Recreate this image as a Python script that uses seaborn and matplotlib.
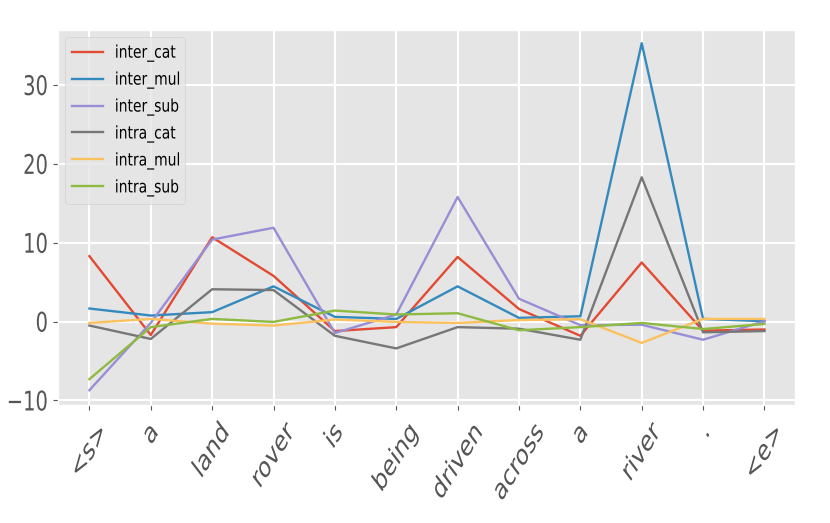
import numpy as np
import pandas as pd
import matplotlib
matplotlib.use("Agg")
import matplotlib.pyplot as plt
import seaborn as sns
from matplotlib.patheffects import AbstractPathEffect
from matplotlib.transforms import Affine2D

tokens = ["<s>", "a", "land", "rover", "is", "being", "driven", "across", "a", "river", ".", "<e>"]

inter_cat = [8.3, -1.7, 10.7, 5.8, -1.2, -0.7, 8.2, 1.6, -1.8, 7.5, -1.15, -1.0]
inter_mul = [1.66, 0.77, 1.2, 4.47, 0.6, 0.34, 4.47, 0.47, 0.68, 35.3, 0.34, 0.05]
inter_sub = [-8.7, -0.17, 10.4, 11.9, -1.45, 0.9, 15.8, 2.9, -0.45, -0.4, -2.3, 0.05]
intra_cat = [-0.5, -2.2, 4.1, 4.0, -1.8, -3.4, -0.7, -0.9, -2.3, 18.3, -1.36, -1.2]
intra_mul = [-0.17, 0.34, -0.26, -0.5, 0.26, -0.04, -0.17, 0.2, 0.3, -2.7, 0.34, 0.34]
intra_sub = [-7.3, -0.7, 0.34, -0.04, 1.4, 0.9, 1.06, -1.1, -0.7, -0.17, -0.94, -0.3]

series = {
    "inter_cat": inter_cat,
    "inter_mul": inter_mul,
    "inter_sub": inter_sub,
    "intra_cat": intra_cat,
    "intra_mul": intra_mul,
    "intra_sub": intra_sub,
}

rows = []
for name, vals in series.items():
    for i, v in enumerate(vals):
        rows.append({"pos": i, "value": v, "series": name})
df = pd.DataFrame(rows)


# the reference text looks horizontally squeezed, so squeeze the glyph paths
class Squash(AbstractPathEffect):
    def __init__(self, sx, anchor="center"):
        super().__init__()
        self.sx = sx
        self.anchor = anchor

    def draw_path(self, renderer, gc, tpath, affine, rgbFace=None):
        ext = tpath.get_extents(affine)
        if self.anchor == "left":
            cx = ext.x0
        elif self.anchor == "right":
            cx = ext.x1
        else:
            cx = (ext.x0 + ext.x1) / 2
        sq = Affine2D().translate(-cx, 0).scale(self.sx, 1).translate(cx, 0)
        renderer.draw_path(gc, tpath, affine + sq, rgbFace)


plt.style.use("ggplot")
plt.rcParams["font.family"] = ["DejaVu Sans"]

fig = plt.figure(figsize=(8.3, 5.23), dpi=100)
ax = fig.add_axes([0.07, 0.226, 0.888, 0.717])

palette = ["#E24A33", "#348ABD", "#988ED5", "#777777", "#FBC15E", "#8EBA42"]
sns.lineplot(data=df, x="pos", y="value", hue="series", palette=palette,
             linewidth=1.7, ax=ax)

ax.set_xticks(range(len(tokens)))
ax.set_xticklabels(tokens, rotation=48, ha="center", fontsize=21)
ax.set_yticks([-10, 0, 10, 20, 30])
ax.tick_params(axis="y", labelsize=19.5)
ax.tick_params(axis="x", pad=6)
ax.set_xlim(-0.51, 11.5)
ax.set_ylim(-10.55, 37.0)
ax.set_xlabel("")
ax.set_ylabel("")
ax.grid(True, color="white", linewidth=1.5)

for t in ax.get_xticklabels():
    t.set_path_effects([Squash(0.69, "center")])
for t in ax.get_yticklabels():
    t.set_path_effects([Squash(0.72, "right")])

leg = ax.legend(loc="upper left", bbox_to_anchor=(0, 0, 0.182, 1), mode="expand",
                fontsize=12.5, borderaxespad=0.4, handlelength=1.8,
                handletextpad=0.65, title=None)
for t in leg.get_texts():
    t.set_path_effects([Squash(0.8, "left")])

fig.savefig("out.png", dpi=100)
